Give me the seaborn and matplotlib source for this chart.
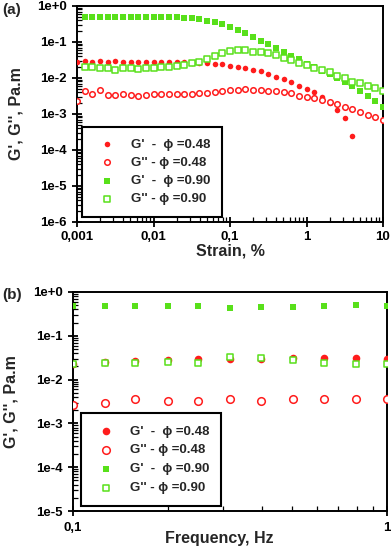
import numpy as np
import pandas as pd
import matplotlib
matplotlib.use('Agg')
import matplotlib.pyplot as plt
import seaborn as sns
from matplotlib.ticker import FixedLocator, NullFormatter, FuncFormatter

# ---------------- data: panel (a) strain sweep ----------------
strain = [0.001, 0.00126, 0.00158, 0.002, 0.00251, 0.00316, 0.00398, 0.00501, 0.00631, 0.00794,
          0.01, 0.0126, 0.0158, 0.02, 0.0251, 0.0316, 0.0398, 0.0501, 0.0631, 0.0794,
          0.1, 0.126, 0.158, 0.2, 0.251, 0.316, 0.398, 0.501, 0.631, 0.794,
          1.0, 1.26, 1.58, 2.0, 2.51, 3.16, 3.98, 5.01, 6.31, 7.94, 10.0]

gp_048 = [0.0273, 0.0303, 0.0284, 0.0303, 0.0284, 0.0303, 0.0278, 0.0278, 0.0278, 0.0278,
          0.0278, 0.0278, 0.0278, 0.0284, 0.0284, 0.0267, 0.0257, 0.0257, 0.0245, 0.0240,
          0.0220, 0.0206, 0.0186, 0.0167, 0.0156, 0.0129, 0.0109, 0.00933, 0.00794, 0.00617,
          0.00510, 0.00398, 0.00300, 0.00200, 0.00129, 0.000759, 0.000251]

gpp_048 = [0.00234, 0.00447, 0.00355, 0.00468, 0.00339, 0.00339, 0.00355, 0.00347, 0.00324, 0.00347,
           0.00355, 0.00355, 0.00355, 0.00355, 0.00355, 0.00355, 0.00372, 0.00389, 0.00417, 0.00447,
           0.00468, 0.00468, 0.00490, 0.00468, 0.00468, 0.00447, 0.00437, 0.00398, 0.00372, 0.00324,
           0.00302, 0.00275, 0.00245, 0.00219, 0.00186, 0.00158, 0.00138, 0.00115, 0.000933, 0.000813,
           0.000676]

gp_090 = [0.49, 0.49, 0.49, 0.49, 0.49, 0.49, 0.49, 0.49, 0.49, 0.49,
          0.48, 0.48, 0.48, 0.473, 0.455, 0.427, 0.391, 0.366, 0.316, 0.266,
          0.215, 0.174, 0.135, 0.107, 0.0861, 0.0668, 0.0516, 0.0417, 0.0331, 0.0245,
          0.0200, 0.0158, 0.0129, 0.0102, 0.00794, 0.00617, 0.00447, 0.00324, 0.00229, 0.00155]

gpp_090 = [0.0206, 0.0206, 0.0194, 0.0186, 0.0164, 0.0186, 0.0186, 0.0182, 0.0191, 0.0194,
           0.0200, 0.0204, 0.0215, 0.0230, 0.0257, 0.0278, 0.0331, 0.0408, 0.0490, 0.0575,
           0.0600, 0.0600, 0.0537, 0.0537, 0.0490, 0.0437, 0.0367, 0.0316, 0.0267, 0.0230,
           0.0194, 0.0167, 0.0144, 0.0114, 0.00977, 0.00794, 0.00741, 0.00603, 0.00513, 0.00447]

# ---------------- data: panel (b) frequency sweep ----------------
freq = [0.1, 0.126, 0.158, 0.2, 0.251, 0.316, 0.398, 0.501, 0.631, 0.794, 1.0]
f_gp_048 = [0.0223, 0.0248, 0.0266, 0.0280, 0.0295, 0.0295, 0.0295, 0.0306, 0.0306, 0.0306, 0.0295]
f_gpp_048 = [0.00263, 0.00297, 0.00355, 0.00320, 0.00320, 0.00361, 0.00320, 0.00366, 0.00366, 0.00366, 0.00366]
f_gp_090 = [0.486, 0.486, 0.486, 0.486, 0.486, 0.438, 0.448, 0.461, 0.486, 0.505, 0.486]
f_gpp_090 = [0.0223, 0.0243, 0.0235, 0.0256, 0.0235, 0.0333, 0.0316, 0.0276, 0.0243, 0.0231, 0.0223]

labels = ["G'  -  \u03d5 =0.48", "G'' - \u03d5 =0.48", "G'  -  \u03d5 =0.90", "G'' - \u03d5 =0.90"]
a_xticks = [0.001, 0.01, 0.1, 1, 10]
a_xticklabels = ["0,001", "0,01", "0,1", "1", "10"]
b_xticks = [0.1, 1]
b_xticklabels = ["0,1", "1"]

RED = '#ff1c1c'
GREEN = '#58e01a'

sns.set_theme(style='ticks')
plt.rcParams['font.family'] = ['Liberation Sans', 'DejaVu Sans']
plt.rcParams['font.weight'] = 'bold'
plt.rcParams['axes.labelweight'] = 'bold'

fig = plt.figure(figsize=(3.92, 5.49), dpi=100)
ax_a = fig.add_axes([77/392, 1-222/549, 306/392, 216/549])
ax_b = fig.add_axes([73/392, 1-511/549, 314/392, 219/549])


def draw(ax, x, series, s_circ, s_sq):
    (g1, g2, g3, g4) = series
    sns.scatterplot(x=x[:len(g1)], y=g1, ax=ax, marker='o', s=s_circ, color=RED,
                    linewidth=0, label=labels[0], zorder=3)
    sns.scatterplot(x=x[:len(g2)], y=g2, ax=ax, marker='o', s=s_circ, color=RED,
                    facecolor='white', edgecolor=RED, linewidth=1.1, label=labels[1], zorder=3)
    sns.scatterplot(x=x[-len(g3):], y=g3, ax=ax, marker='s', s=s_sq, color=GREEN,
                    linewidth=0, label=labels[2], zorder=3)
    sns.scatterplot(x=x[-len(g4):], y=g4, ax=ax, marker='s', s=s_sq, color=GREEN,
                    facecolor='white', edgecolor=GREEN, linewidth=1.1, label=labels[3], zorder=3)


draw(ax_a, strain, (gp_048, gpp_048, gp_090, gpp_090), 16, 14)
draw(ax_b, freq, (f_gp_048, f_gpp_048, f_gp_090, f_gpp_090), 30, 24)

fmt = FuncFormatter(lambda v, p: "1e%+d" % int(round(np.log10(v))))

for ax, xlim, ylim, xt, xtl, xlabel, xpad in [
        (ax_a, (0.001, 10), (1e-6, 1), a_xticks, a_xticklabels, 'Strain, %', 3),
        (ax_b, (0.1, 1), (1e-5, 1), b_xticks, b_xticklabels, 'Frequency, Hz', 4.5)]:
    ax.set_xscale('log')
    ax.set_yscale('log')
    ax.set_xlim(*xlim)
    ax.set_ylim(*ylim)
    ax.xaxis.set_major_locator(FixedLocator(xt))
    ax.set_xticklabels(xtl)
    ax.xaxis.set_minor_formatter(NullFormatter())
    ax.yaxis.set_major_formatter(fmt)
    ax.yaxis.set_minor_formatter(NullFormatter())
    ax.tick_params(which='major', direction='inout', length=7, width=1.3,
                   labelsize=9.5, color='black', labelcolor='black')
    ax.tick_params(which='minor', direction='in', length=3.5, width=0.9, color='black')
    ax.tick_params(axis='y', which='major', pad=4)
    ax.tick_params(axis='x', which='major', pad=xpad)
    for sp in ax.spines.values():
        sp.set_linewidth(1.4)
        sp.set_color('black')
        sp.set_visible(True)
    ax.set_xlabel(xlabel, fontsize=11.5, fontweight='bold')
    ax.set_ylabel("G', G'', Pa.m", fontsize=11.5, fontweight='bold')
    ax.grid(False)

ax_a.yaxis.set_label_coords(-0.176, 0.5)
ax_a.xaxis.set_label_coords(0.5, -0.1)
ax_b.yaxis.set_label_coords(-0.175, 0.5)
ax_b.xaxis.set_label_coords(0.465, -0.09)

for ax, bbox, ls in [(ax_a, (0.016, 0.023), 0.45), (ax_b, (0.025, 0.023), 0.5)]:
    leg = ax.legend(loc='lower left', bbox_to_anchor=bbox, frameon=True, fancybox=False,
                    edgecolor='black', framealpha=1, borderpad=0.9, labelspacing=ls,
                    handletextpad=0.8, handlelength=2.0, borderaxespad=0,
                    prop=dict(weight='bold', size=9.5))
    leg.get_frame().set_linewidth(1.5)

fig.text(2/392, 1-10/549, '(a)', fontsize=11, fontweight='bold', va='center', ha='left')
fig.text(2/392, 1-295/549, '(b)', fontsize=11, fontweight='bold', va='center', ha='left')

fig.savefig('out.png', dpi=100)
